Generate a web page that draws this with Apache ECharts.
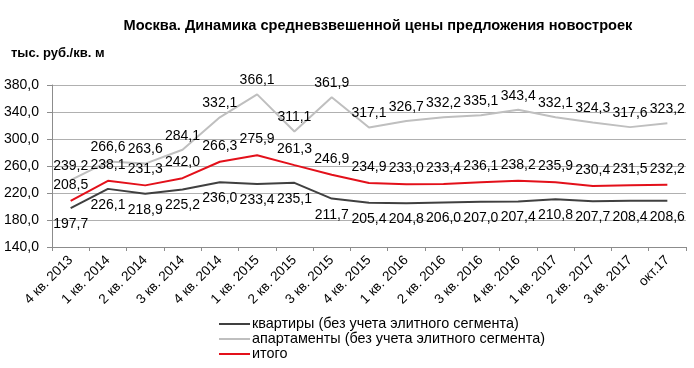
<!DOCTYPE html>
<html><head><meta charset="utf-8">
<script src="https://cdn.jsdelivr.net/npm/echarts@6/dist/echarts.min.js"></script>
<style>html,body{margin:0;padding:0;background:#fff}#c{width:694px;height:368px}</style>
</head><body><div id="c"></div>
<script>
var categories = ['4 кв. 2013','1 кв. 2014','2 кв. 2014','3 кв. 2014','4 кв. 2014','1 кв. 2015','2 кв. 2015','3 кв. 2015','4 кв. 2015','1 кв. 2016','2 кв. 2016','3 кв. 2016','4 кв. 2016','1 кв. 2017','2 кв. 2017','3 кв. 2017','окт.17'];
var flats = [197.7,226.1,218.9,225.2,236.0,233.4,235.1,211.7,205.4,204.8,206.0,207.0,207.4,210.8,207.7,208.4,208.6];
var apartments = [239.2,266.6,263.6,284.1,332.1,366.1,311.1,361.9,317.1,326.7,332.2,335.1,343.4,332.1,324.3,317.6,323.2];
var total = [208.5,238.1,231.3,242.0,266.3,275.9,261.3,246.9,234.9,233.0,233.4,236.1,238.2,235.9,230.4,231.5,232.2];
var names = ['квартиры (без учета элитного сегмента)','апартаменты (без учета элитного сегмента)','итого'];
var yTicks = {min:140, max:380, interval:40};

var font = 'Liberation Sans, Arial, sans-serif';
function fmt(v){return v.toFixed(1).replace('.',',');}
var chart = echarts.init(document.getElementById('c'));
function lbl(pos,d){return {show:true,position:pos,distance:d,fontFamily:font,fontSize:14,color:'#000',formatter:function(p){return fmt(p.value);}};}
function ser(i,data,color,pos,d){
  return {name:names[i],type:'line',data:data,symbol:'circle',symbolSize:0.1,showSymbol:true,
    lineStyle:{color:color,width:2},itemStyle:{color:color},label:lbl(pos,d),emphasis:{disabled:true}};
}
chart.setOption({
  animation:false,
  title:[{text:'Москва. Динамика средневзвешенной цены предложения новостроек',left:373,top:13,textAlign:'center',textStyle:{fontFamily:font,fontSize:14.6,fontWeight:'bold',color:'#000'}},
         {text:'тыс. руб./кв. м',left:6,top:42,textStyle:{fontFamily:font,fontSize:13,fontWeight:'bold',color:'#000'}}],
  grid:{left:52,right:8,top:85,bottom:121},
  legend:{orient:'vertical',left:219,top:317,padding:0,itemGap:1,itemWidth:31,itemHeight:14,icon:'path://M0,6L31,6L31,8L0,8Z',
    textStyle:{fontFamily:font,fontSize:14.4,color:'#000',padding:[0,0,0,-3]},data:names},
  xAxis:{type:'category',data:categories,boundaryGap:true,
    axisLine:{lineStyle:{color:'#8c8c8c'}},axisTick:{show:true,lineStyle:{color:'#8c8c8c'},length:4},
    axisLabel:{rotate:45,interval:0,fontFamily:font,fontSize:13.5,color:'#000',margin:11}},
  yAxis:{type:'value',min:yTicks.min,max:yTicks.max,interval:yTicks.interval,
    axisLine:{show:true,lineStyle:{color:'#8c8c8c'}},axisTick:{show:true,lineStyle:{color:'#8c8c8c'},length:5},
    splitLine:{lineStyle:{color:'#b0b0b0'}},
    axisLabel:{fontFamily:font,fontSize:14,color:'#000',margin:13,formatter:function(v){return fmt(v);}}},
  series:[
    ser(0,flats,'#404040','bottom',9),
    ser(1,apartments,'#bfbfbf','top',7),
    ser(2,total,'#e3101a','top',9)
  ]
});
</script></body></html>
